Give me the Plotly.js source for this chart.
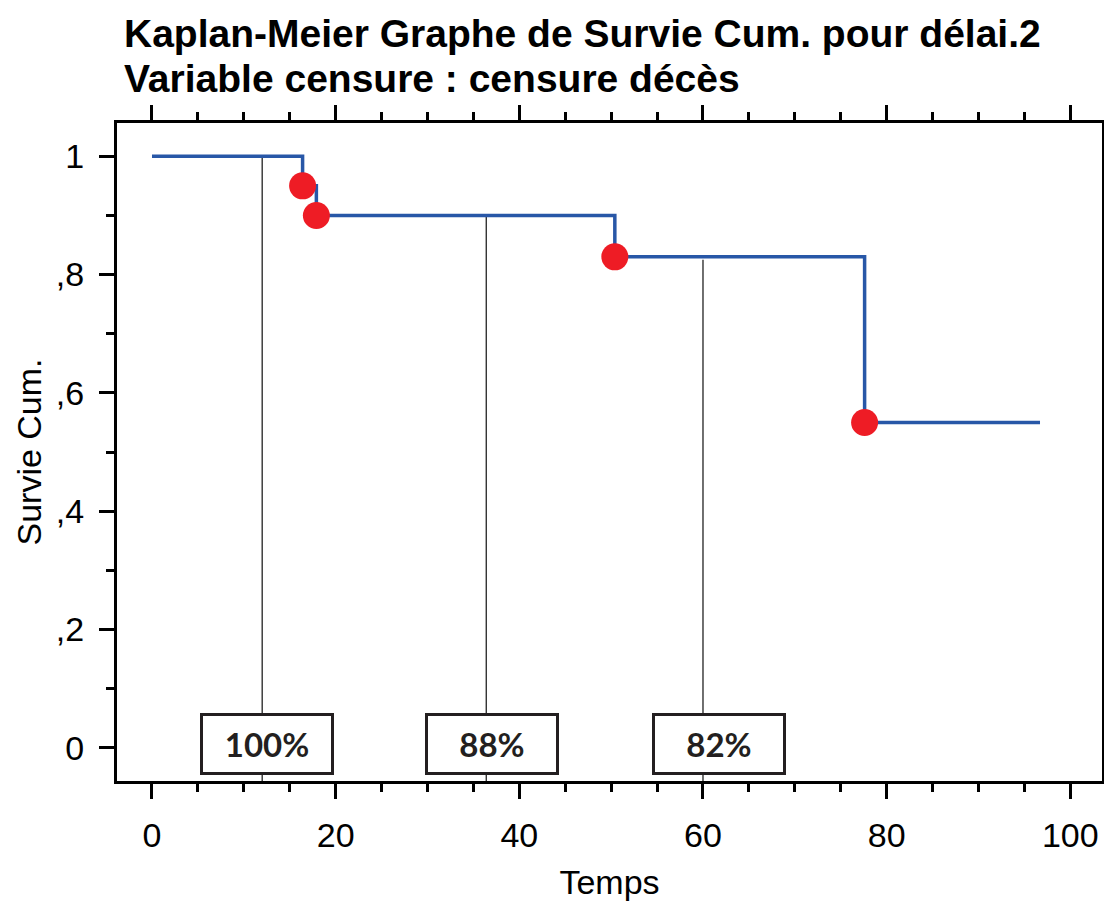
<!DOCTYPE html>
<html>
<head>
<meta charset="utf-8">
<script src="https://cdn.plot.ly/plotly-3.0.1.min.js"></script>
<style>html,body{margin:0;padding:0;background:#fff;}#chart{width:1104px;height:902px;}</style>
</head>
<body>
<div id="chart"></div>
<script>
// Kaplan-Meier step curve
var stepTimes = [0, 16.4, 17.9, 50.4, 77.6, 96.7];
var stepSurv  = [1, 0.95, 0.90, 0.83, 0.55, 0.55];
// event markers
var eventTimes = [16.4, 17.9, 50.4, 77.6];
var eventSurv  = [0.95, 0.90, 0.83, 0.55];
// reference vertical lines with labelled boxes
var markTimes  = [12, 36.4, 60];
var markTop    = [1, 0.90, 0.825];
var markLabels = ['100%', '88%', '82%'];
// axis ticks
var xTickVals = [0, 20, 40, 60, 80, 100];
var xTickText = ['0', '20', '40', '60', '80', '100'];
var yTickVals = [0, 0.2, 0.4, 0.6, 0.8, 1];
var yTickText = ['0', ',2', ',4', ',6', ',8', '1'];
// titles
var titleLines = ['Kaplan-Meier Graphe de Survie Cum. pour délai.2', 'Variable censure : censure décès'];

var vx = [], vy = [];
for (var i = 0; i < markTimes.length; i++) {
  vx.push(markTimes[i], markTimes[i], null);
  vy.push(markTop[i], -0.07, null);
}

var traces = [
  {x: vx, y: vy, mode: 'lines', type: 'scatter', line: {color: '#222222', width: 1.3}, hoverinfo: 'skip', showlegend: false},
  {x: stepTimes, y: stepSurv, mode: 'lines', type: 'scatter', line: {color: '#2857a7', width: 3.5, shape: 'hv'}, showlegend: false},
  {x: eventTimes, y: eventSurv, mode: 'markers', type: 'scatter', marker: {color: '#ee1c25', size: 27}, showlegend: false}
];

var boxShift = [5, 6, 16];
var annotations = markTimes.map(function (t, i) {
  return {
    x: t, y: 0.007, xref: 'x', yref: 'y', xshift: boxShift[i],
    text: '<b>' + markLabels[i] + '</b>', showarrow: false,
    font: {family: 'Lato, sans-serif', size: 33, color: '#231f20'},
    bgcolor: '#ffffff', bordercolor: '#231f20', borderwidth: 3, borderpad: 0,
    width: 128, height: 56
  };
});
var titleY = [33, 79]; // pixel centres of the title lines
titleLines.forEach(function (t, i) {
  annotations.push({
    x: 0.005, xref: 'paper', xanchor: 'left',
    y: (781 - titleY[i]) / 658, yref: 'paper', yanchor: 'middle',
    text: '<b>' + t + '</b>', showarrow: false,
    font: {family: '"Liberation Sans", Arial, sans-serif', size: 39, color: '#000'}
  });
});

var layout = {
  width: 1104, height: 902,
  margin: {l: 117, r: 2, t: 123, b: 121},
  paper_bgcolor: '#ffffff', plot_bgcolor: '#ffffff',
  font: {family: '"Liberation Sans", Arial, sans-serif', color: '#000'},
  xaxis: {
    range: [-3.81, 103.45], showgrid: false, zeroline: false,
    showline: true, linecolor: '#000', linewidth: 3, mirror: 'ticks',
    ticks: 'outside', ticklen: 15, tickwidth: 3, tickcolor: '#000',
    tickvals: xTickVals, ticktext: xTickText, ticklabelstandoff: 7,
    tickfont: {size: 34, color: '#000'},
    minor: {dtick: 5, tick0: 0, ticks: 'outside', ticklen: 8, tickwidth: 3, tickcolor: '#000', showgrid: false},
    title: {text: 'Temps', font: {size: 34, color: '#000'}, standoff: 18}
  },
  yaxis: {
    range: [-0.0563, 1.0563], showgrid: false, zeroline: false,
    showline: true, linecolor: '#000', linewidth: 3, mirror: true,
    ticks: 'outside', ticklen: 15, tickwidth: 3, tickcolor: '#000',
    tickvals: yTickVals, ticktext: yTickText, ticklabelstandoff: 8,
    tickfont: {size: 34, color: '#000'},
    minor: {dtick: 0.1, tick0: 0, ticks: 'outside', ticklen: 8, tickwidth: 3, tickcolor: '#000', showgrid: false},
    title: {text: 'Survie Cum.', font: {size: 34, color: '#000'}, standoff: 4}
  },
  annotations: annotations
};

Plotly.newPlot('chart', traces, layout, {displayModeBar: false, staticPlot: true});
</script>
</body>
</html>
